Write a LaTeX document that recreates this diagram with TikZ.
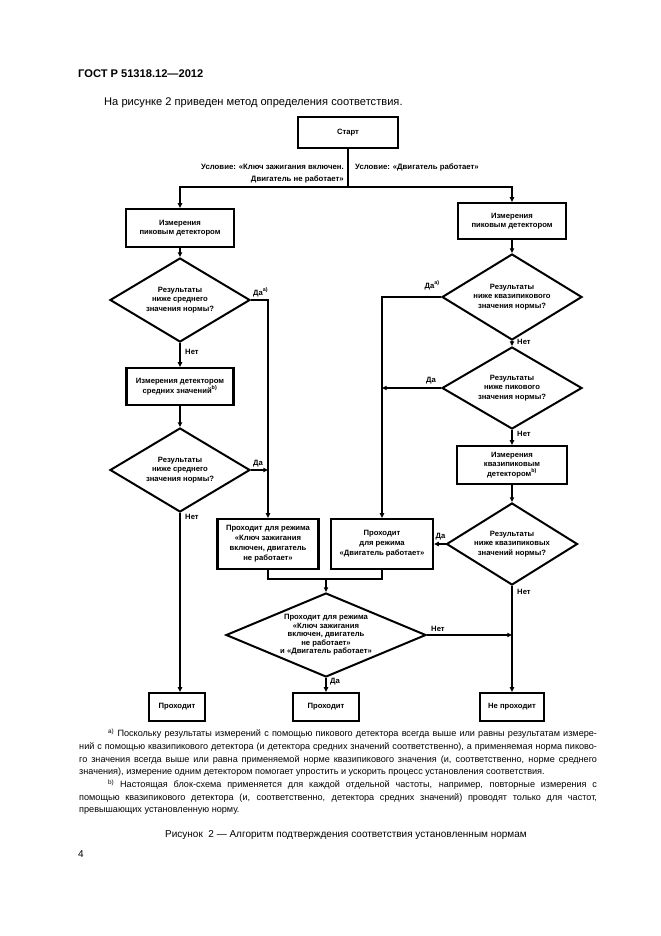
\documentclass[tikz,border=0pt]{standalone}
\usepackage{fontspec}
\setmainfont{Liberation Sans}
\usetikzlibrary{arrows.meta,shapes.geometric}
\newcommand\dfont{\bfseries\fontsize{6.9}{8.4}\selectfont}
\begin{document}
\begin{tikzpicture}[x=0.9pt,y=-0.9pt,
  conn/.style={line width=1.7pt},
  ar/.style={-{Triangle[length=4.2pt,width=3.8pt]}},
  box/.style={draw,line width=2pt,rectangle,inner sep=0pt,align=center,font=\dfont},
  dia/.style={draw,line width=1.8pt,diamond,inner sep=0pt},
  dtext/.style={inner sep=0pt,align=center,font=\dfont},
  lbl/.style={inner sep=0pt,font=\dfont},
  bw/.style={minimum width=#1*0.9pt},
  bh/.style={minimum height=#1*0.9pt}]
\useasboundingbox[fill=white] (0,0) rectangle (661,936);
% page text
\node[anchor=base west,inner sep=0pt,font=\bfseries\fontsize{10}{12}\selectfont] (hdr) at (78,77) {ГОСТ Р 51318.12—2012};
\node[anchor=base west,inner sep=0pt,font=\fontsize{10}{12}\selectfont] (intro) at (104,105) {На рисунке 2 приведен метод определения соответствия.};
% boxes
\node[box,bw=100,bh=31] (start) at (348,132.5) {Старт};
\node[box,bw=108,bh=38] (l1) at (180,228) {Измерения\\пиковым детектором};
\node[box,bw=108,bh=36] (r1) at (512,221) {Измерения\\пиковым детектором};
\node[box,bw=107,bh=37] (l2) at (180,386.5) {Измерения детектором\\средних значений\textsuperscript{b)}};
\node[box,bw=110,bh=38] (r2) at (512,465) {Измерения\\квазипиковым\\детектором\textsuperscript{b)}};
\node[box,bw=101,bh=50,font=\bfseries\fontsize{6.9}{9}\selectfont] (a) at (268,544) {Проходит для режима\\«Ключ зажигания\\включен, двигатель\\не работает»};
\node[box,bw=102,bh=50,font=\bfseries\fontsize{6.9}{9}\selectfont] (b) at (382,544) {Проходит\\для режима\\«Двигатель работает»};
\node[box,bw=56,bh=28] (p1) at (177,707) {Проходит};
\node[box,bw=66,bh=28] (p2) at (326,707) {Проходит};
\node[box,bw=64,bh=28] (np) at (512,707) {Не проходит};
% diamonds
\node[dia,bw=140,bh=84] (ld1) at (180,300) {};
\node[dtext] (ld1t) at (ld1) {Результаты\\ниже среднего\\значения нормы?};
\node[dia,bw=140,bh=84] (ld2) at (180,470) {};
\node[dtext] (ld2t) at (ld2) {Результаты\\ниже среднего\\значения нормы?};
\node[dia,bw=140,bh=86] (rd1) at (512,297) {};
\node[dtext] (rd1t) at (rd1) {Результаты\\ниже квазипикового\\значения нормы?};
\node[dia,bw=140,bh=82] (rd2) at (512,388) {};
\node[dtext] (rd2t) at (rd2) {Результаты\\ниже пикового\\значения нормы?};
\node[dia,bw=131,bh=82] (rd3) at (512,544) {};
\node[dtext] (rd3t) at (rd3) {Результаты\\ниже квазипиковых\\значений нормы?};
\node[dia,bw=200,bh=84] (bd) at (326,635) {};
\node[dtext,font=\bfseries\fontsize{6.9}{7.6}\selectfont] (bdt) at (bd) {Проходит для режима\\«Ключ зажигания\\включен, двигатель\\не работает»\\и «Двигатель работает»};
% helper coordinates
\coordinate (jy) at (0,187);
\coordinate (my) at (0,579);
\coordinate (j) at (start.south |- jy);
\coordinate (m) at (bd.north |- my);
% condition labels
\node[lbl,anchor=north east,align=right,font=\bfseries\fontsize{7}{10.8}\selectfont] (c1) at (344,164) {Условие: «Ключ зажигания включен.\\Двигатель не работает»};
\node[lbl,anchor=north west,font=\bfseries\fontsize{7}{10.8}\selectfont] (c2) at (355,164) {Условие: «Двигатель работает»};
% connectors
\draw[conn] (start.south) -- (j);
\draw[conn,ar] (j) -| (l1.north);
\draw[conn,ar] (j) -| (r1.north);
\draw[conn,ar] (l1.south) -- (ld1.north);
\draw[conn,ar] (ld1.east) -- (ld1.east -| a.north) -- (a.north);
\draw[conn,ar] (ld1.south) -- (l2.north);
\draw[conn,ar] (l2.south) -- (ld2.north);
\draw[conn,ar] (ld2.east) -- (ld2.east -| a.north);
\draw[conn,ar] (ld2.south) -- (ld2.south |- p1.north);
\draw[conn,ar] (r1.south) -- (rd1.north);
\draw[conn,ar] (rd1.west) -- (rd1.west -| b.north) -- (b.north);
\draw[conn,ar] (rd1.south) -- (rd2.north);
\draw[conn,ar] (rd2.west) -- (rd2.west -| b.north);
\draw[conn,ar] (rd2.south) -- (r2.north);
\draw[conn,ar] (r2.south) -- (rd3.north);
\draw[conn,ar] (rd3.west) -- (b.east);
\draw[conn,ar] (rd3.south) -- (np.north);
\draw[conn] (a.south) -- (a.south |- my) -- (b.south |- my) -- (b.south);
\draw[conn,ar] (m) -- (bd.north);
\draw[conn,ar] (bd.east) -- (bd.east -| np.north);
\draw[conn,ar] (bd.south) -- (p2.north);
% branch labels
\node[lbl,anchor=south west] (y1) at ([shift={(2,-3)}]ld1.east) {Да\textsuperscript{a)}};
\node[lbl,anchor=west] (n1) at (185,352) {Нет};
\node[lbl,anchor=south west] (y2) at ([shift={(2,-3)}]ld2.east) {Да};
\node[lbl,anchor=west] (n2) at (185,517) {Нет};
\node[lbl,anchor=south east] (y3) at ([shift={(-1,-7)}]rd1.west) {Да\textsuperscript{a)}};
\node[lbl,anchor=west] (n3) at (517,342) {Нет};
\node[lbl,anchor=south east] (y4) at ([shift={(-5,-4)}]rd2.west) {Да};
\node[lbl,anchor=west] (n4) at (517,434) {Нет};
\node[lbl,anchor=south east] (y5) at ([shift={(0,-4)}]rd3.west) {Да};
\node[lbl,anchor=west] (n5) at (517,592) {Нет};
\node[lbl,anchor=south west] (n6) at ([shift={(4,-3)}]bd.east) {Нет};
\node[lbl,anchor=west] (y6) at (330,682) {Да};
% footnotes
\node[anchor=north west,inner sep=0pt,text width=466pt,align=justify,font=\fontsize{8.2}{11.4}\selectfont] (fn) at (79,729) {%
\hspace*{26pt}\textsuperscript{a)}\ Поскольку результаты измерений с помощью пикового детектора всегда выше или равны результатам измере-\linebreak
ний с помощью квазипикового детектора (и детектора средних значений соответственно), а применяемая норма пиково-\linebreak
го значения всегда выше или равна применяемой норме квазипикового значения (и, соответственно, норме среднего\linebreak
значения), измерение одним детектором помогает упростить и ускорить процесс установления соответствия.\par
\hspace*{26pt}\textsuperscript{b)}\ Настоящая блок-схема применяется для каждой отдельной частоты, например, повторные измерения с\linebreak
помощью квазипикового детектора (и, соответственно, детектора средних значений) проводят только для частот,\linebreak
превышающих установленную норму.\par};
\node[anchor=base,inner sep=0pt,font=\fontsize{9}{11}\selectfont] (cap) at (346,837) {Рисунок\ \ 2 — Алгоритм подтверждения соответствия установленным нормам};
\node[anchor=base west,inner sep=0pt,font=\fontsize{9}{11}\selectfont] (pg) at (78,857) {4};
\end{tikzpicture}
\end{document}
